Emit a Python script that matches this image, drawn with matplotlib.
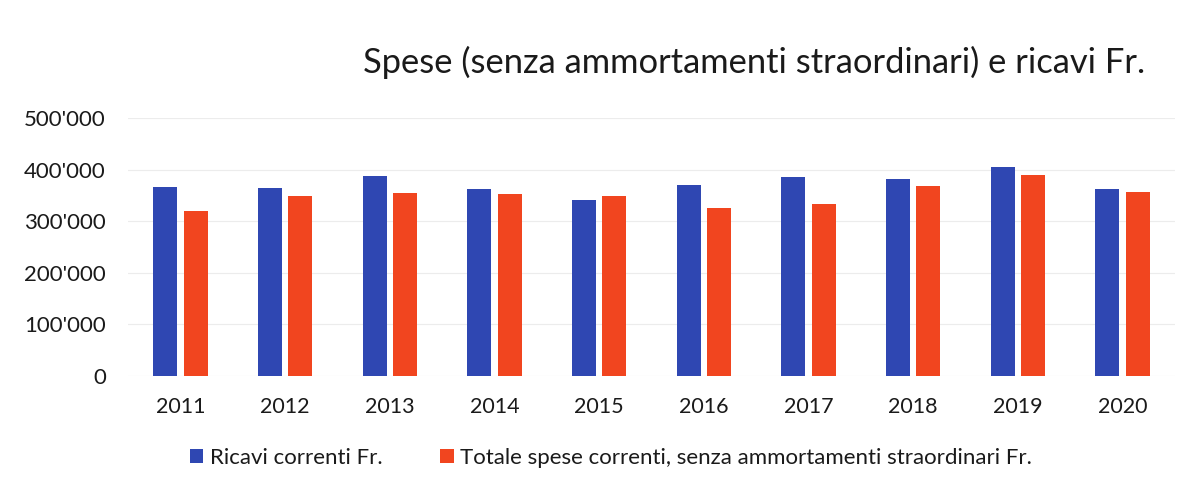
import numpy as np
import matplotlib
matplotlib.use('Agg')
import matplotlib.pyplot as plt
from matplotlib.ticker import FuncFormatter

plt.rcParams['font.family'] = ['Lato', 'DejaVu Sans']

# dati
anni = ['2011', '2012', '2013', '2014', '2015', '2016', '2017', '2018', '2019', '2020']
ricavi = [366000, 365000, 388000, 363000, 342000, 370000, 385000, 381000, 406000, 362000]
spese = [319000, 349000, 354000, 353000, 349000, 325000, 333000, 369000, 389000, 356000]

blu = '#2f47b2'
arancio = '#f1451f'

fig = plt.figure(figsize=(11.89, 4.86), dpi=100)
ax = fig.add_axes([0.1077, 0.2263, 0.8803, 0.5309])

x = np.arange(len(anni))
w = 0.23
ax.bar(x - 0.145, ricavi, w, color=blu, label='Ricavi correnti Fr.', zorder=3)
ax.bar(x + 0.145, spese, w, color=arancio,
       label='Totale spese correnti, senza ammortamenti straordinari Fr.', zorder=3)

ax.set_xlim(-0.5, len(anni) - 0.5)
ax.set_ylim(0, 500000)
ax.set_yticks(np.arange(0, 500001, 100000))
ax.yaxis.set_major_formatter(FuncFormatter(lambda v, p: '0' if v == 0 else f"{int(v):,}".replace(',', "'")))
ax.set_xticks(x)
ax.set_xticklabels(anni)

ax.grid(axis='y', color='#ececec', linewidth=0.8, zorder=0)
for s in ax.spines.values():
    s.set_visible(False)
ax.tick_params(axis='both', length=0, labelsize=16, colors='#1a1a1a')
ax.tick_params(axis='y', pad=16)
ax.tick_params(axis='x', pad=15, labelsize=15.5)

fig.text(0.634, 0.872, 'Spese (senza ammortamenti straordinari) e ricavi Fr.',
         ha='center', va='center', fontsize=24.8, color='#1a1a1a')

fig.legend(loc='center', bbox_to_anchor=(0.514, 0.058), ncol=2, frameon=False,
           fontsize=16, handlelength=0.6, handleheight=0.6, handletextpad=0.3,
           columnspacing=2.6, labelcolor='#1a1a1a')

fig.savefig('out.png', dpi=100)
